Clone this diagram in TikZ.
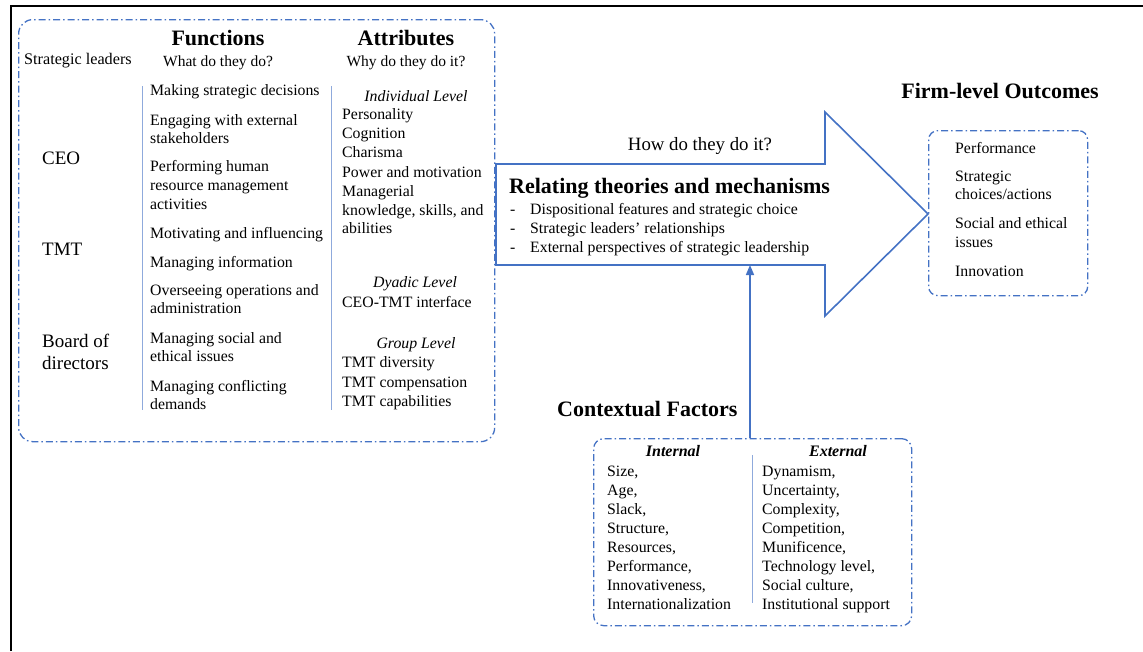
\documentclass[tikz,border=0pt]{standalone}
\usepackage{fontspec}
\setmainfont{Liberation Serif}
\usetikzlibrary{arrows.meta}
\definecolor{fblue}{HTML}{4472C4}
\definecolor{lblue}{HTML}{8FAADC}
\begin{document}
\begin{tikzpicture}[x=1pt,y=-1pt,
  body/.style={font=\fontsize{15.8}{19}\selectfont, inner sep=0pt},
  sub/.style={font=\fontsize{15.5}{19}\selectfont, inner sep=0pt},
  lvl/.style={font=\fontsize{15.8}{19}\selectfont\itshape, inner sep=0pt},
  bi/.style={font=\fontsize{16}{19}\selectfont\bfseries\itshape, inner sep=0pt},
  leader/.style={font=\fontsize{19}{22}\selectfont, inner sep=0pt},
  head/.style={font=\fontsize{22}{26}\selectfont\bfseries, inner sep=0pt},
  dd/.style={draw=fblue, line width=1.3pt, dash pattern=on 7pt off 3pt on 1.5pt off 3pt},
  divider/.style={draw=lblue, line width=1pt},
  bigarrow/.style={draw=fblue, line width=1.6pt, line join=miter}
]
\useasboundingbox (0,0) rectangle (1143,651);
% outer frame
\draw[line width=2pt] (10.5,651) -- (10.5,5.5) -- (1143,5.5);

% left box
\node[dd, rounded corners=14pt, minimum width=476pt, minimum height=422pt, anchor=north west, inner sep=0pt] (lbox) at (18,19) {};
\node[font=\fontsize{16.2}{19}\selectfont, inner sep=0pt, anchor=base west] (sl) at (24,64) {Strategic leaders};
\node[head, anchor=base] (fh) at (218,45) {Functions};
\node[sub, anchor=base] (fq) at (218,66) {What do they do?};
\node[head, anchor=base] (ah) at (406,45) {Attributes};
\node[sub, anchor=base] (aq) at (406,66) {Why do they do it?};

\node[leader, anchor=base west] (ceo) at (42,164) {CEO};
\node[leader, anchor=base west] (tmt) at (42,255) {TMT};
\node[leader, anchor=base west] (bd1) at (42,347) {Board of};
\node[leader, anchor=base west] (bd2) at (42,369) {directors};

\draw[divider] (142,86) -- (142,410);
\draw[divider] (331,86) -- (331,410);

\foreach \txt/\yy [count=\i] in {
  Making strategic decisions/95,
  Engaging with external/125,
  stakeholders/143,
  Performing human/171,
  resource management/190,
  activities/209,
  Motivating and influencing/238,
  Managing information/267,
  Overseeing operations and/295,
  administration/313,
  Managing social and/343,
  ethical issues/361,
  Managing conflicting/391,
  demands/409}
  \node[body, anchor=base west] (fn\i) at (150,\yy) {\txt};

\node[lvl, anchor=base] (ind) at (416,101) {Individual Level};
\foreach \txt/\yy [count=\i] in {
  Personality/119,
  Cognition/138,
  Charisma/157,
  Power and motivation/177,
  Managerial/196,
  {knowledge, skills, and}/215,
  abilities/233,
  CEO-TMT interface/307,
  TMT diversity/367,
  TMT compensation/387,
  TMT capabilities/406}
  \node[body, anchor=base west] (at\i) at (342,\yy) {\txt};
\node[lvl, anchor=base] (dya) at (415,287) {Dyadic Level};
\node[lvl, anchor=base] (grp) at (416,348) {Group Level};

% big arrow
\draw[bigarrow] (496,164) -- (825,164) -- (825,112) -- (928,214) -- (825,316) -- (825,265) -- (496,265) -- cycle;
\coordinate (arr) at (750,265);
\node[font=\fontsize{18.8}{22}\selectfont, inner sep=0pt, anchor=base] (how) at (700,150) {How do they do it?};
\node[head, anchor=base west] (rel) at (509,193) {Relating theories and mechanisms};
\foreach \txt/\yy [count=\i] in {
  Dispositional features and strategic choice/214,
  Strategic leaders’ relationships/233,
  External perspectives of strategic leadership/252}
  {
  \node[body, anchor=base west] (bd\i) at (510,\yy) {-};
  \node[body, anchor=base west] (bt\i) at (530,\yy) {\txt};
  }

% firm-level outcomes
\node[head, anchor=base] (fo) at (1000,98) {Firm-level Outcomes};
\node[dd, rounded corners=9pt, minimum width=159pt, minimum height=165pt, anchor=north west, inner sep=0pt] (fbox) at (928,130) {};
\foreach \txt/\yy [count=\i] in {
  Performance/153,
  Strategic/181,
  {choices/actions}/199,
  Social and ethical/228,
  issues/247,
  Innovation/276}
  \node[body, anchor=base west] (fo\i) at (955,\yy) {\txt};

% contextual factors
\node[head, anchor=base west] (cf) at (557,416) {Contextual Factors};
\node[dd, rounded corners=10pt, minimum width=318pt, minimum height=187pt, anchor=north west, inner sep=0pt] (ctx) at (593,438) {};
\draw[fblue, line width=1.6pt, -{Triangle[length=10pt,width=8pt]}] (ctx.north -| arr) -- (arr);
\draw[divider] (752,455) -- (752,603);
\node[bi, anchor=base] (inh) at (673,456) {Internal};
\node[bi, anchor=base] (exh) at (838,456) {External};
\foreach \txt/\yy [count=\i] in {
  {Size,}/476, {Age,}/495, {Slack,}/514, {Structure,}/533,
  {Resources,}/552, {Performance,}/571, {Innovativeness,}/590,
  Internationalization/609}
  \node[body, anchor=base west] (in\i) at (607,\yy) {\txt};
\foreach \txt/\yy [count=\i] in {
  {Dynamism,}/476, {Uncertainty,}/495, {Complexity,}/514, {Competition,}/533,
  {Munificence,}/552, {Technology level,}/571, {Social culture,}/590,
  Institutional support/609}
  \node[body, anchor=base west] (ex\i) at (762,\yy) {\txt};
\end{tikzpicture}
\end{document}
